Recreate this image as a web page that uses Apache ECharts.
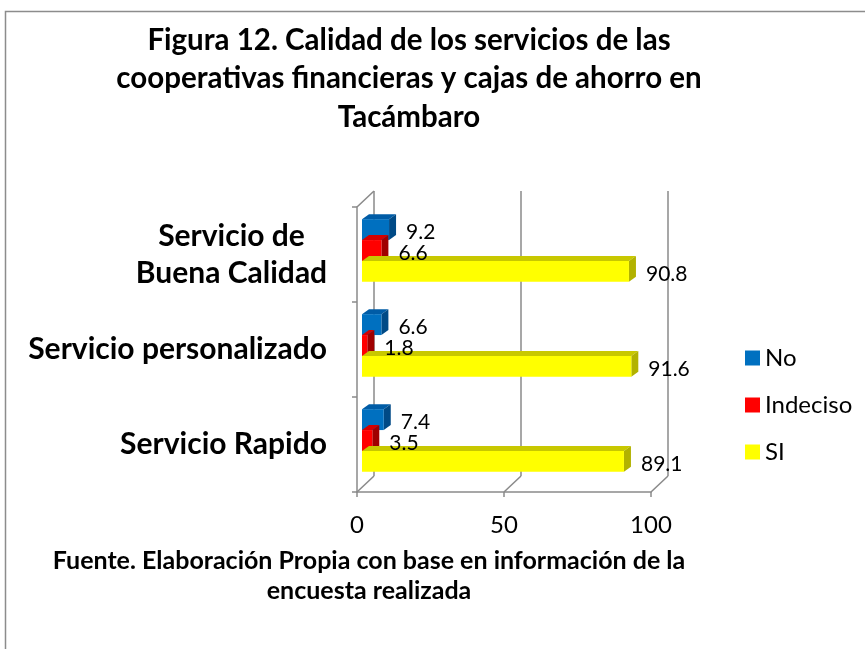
<!DOCTYPE html>
<html>
<head>
<meta charset="utf-8">
<script src="https://cdn.jsdelivr.net/npm/echarts@6/dist/echarts.min.js"></script>
<style>
html, body { margin: 0; padding: 0; background: #fff; }
#main { width: 865px; height: 649px; }
</style>
</head>
<body>
<div id="main"></div>
<script>
// datos
var categories = ['Servicio Rapido', 'Servicio personalizado', 'Servicio de\nBuena Calidad'];
var noData = [7.4, 6.6, 9.2];
var indecisoData = [3.5, 1.8, 6.6];
var siData = [89.1, 91.6, 90.8];
var xTicks = [0, 50, 100];

var FONT = 'Lato, "Noto Sans", sans-serif';
var LINE = '#8a8a8a';

// caras 3D: frente, arriba, lado
var palette = {
  No: ['#0070c0', '#005ca6', '#004a86'],
  Indeciso: ['#ff0000', '#d40000', '#a00000'],
  SI: ['#ffff00', '#c8c800', '#b2b200']
};

// posicion del plano frontal y desplazamiento de la pared del fondo
var gridL = 357, gridT = 207, gridW = 294, gridH = 285;
var backDx = 17, backDy = -16;

var chart = echarts.init(document.getElementById('main'));

function barGeom(slot, api) {
  var v = api.value(0);
  var cat = api.value(1);
  var base = api.coord([0, cat]);
  var end = api.coord([v, cat]);
  var band = api.size([0, 1])[1];
  var h = band * 0.22;
  return {
    v: v,
    h: h,
    x0: base[0] + 5,
    x1: end[0] + 5,
    top: base[1] - 1.5 * h - band * 0.042 + slot * h
  };
}

function makeRender(slot, colors) {
  return function (params, api) {
    var g = barGeom(slot, api);
    var dx = 7, dy = 5;
    var x0 = g.x0, x1 = g.x1, top = g.top, h = g.h;
    return {
      type: 'group',
      children: [
        {
          type: 'polygon',
          shape: { points: [[x0, top], [x0 + dx, top - dy], [x1 + dx, top - dy], [x1, top]] },
          style: { fill: colors[1] }
        },
        {
          type: 'polygon',
          shape: { points: [[x1, top], [x1 + dx, top - dy], [x1 + dx, top + h - dy], [x1, top + h]] },
          style: { fill: colors[2] }
        },
        {
          type: 'rect',
          shape: { x: x0, y: top, width: x1 - x0, height: h },
          style: { fill: colors[0] }
        }
      ]
    };
  };
}

function makeLabel(slot) {
  return function (params, api) {
    var g = barGeom(slot, api);
    return {
      type: 'text',
      x: g.x1 + 17,
      y: g.top + g.h / 2 + 3,
      style: {
        text: String(g.v),
        fill: '#000',
        font: '21px ' + FONT,
        verticalAlign: 'middle',
        align: 'left'
      }
    };
  };
}

function seriesOf(name, values, slot) {
  return {
    name: name,
    type: 'custom',
    itemStyle: { color: palette[name][0] },
    encode: { x: 0, y: 1 },
    data: values.map(function (v, i) { return [v, i]; }),
    renderItem: makeRender(slot, palette[name]),
    z: 10 + slot
  };
}

function labelsOf(values, slot) {
  return {
    type: 'custom',
    encode: { x: 0, y: 1 },
    data: values.map(function (v, i) { return [v, i]; }),
    renderItem: makeLabel(slot),
    silent: true,
    z: 30
  };
}

var option = {
  animation: false,
  textStyle: { fontFamily: FONT },
  legend: {
    orient: 'vertical',
    left: 740,
    top: 341,
    itemWidth: 15,
    itemHeight: 15,
    itemGap: 23,
    icon: 'rect',
    data: ['No', 'Indeciso', 'SI'],
    textStyle: { fontSize: 24, color: '#000', fontFamily: FONT }
  },
  grid: [
    { left: gridL, top: gridT, width: gridW, height: gridH },
    { left: gridL + backDx, top: gridT + backDy, width: gridW, height: gridH }
  ],
  xAxis: [
    {
      type: 'value',
      gridIndex: 0,
      min: 0,
      max: 100,
      interval: 50,
      axisLine: { show: true, lineStyle: { color: LINE, width: 1.5 } },
      axisTick: { show: true, length: 5, lineStyle: { color: LINE, width: 1.5 } },
      splitLine: { show: false },
      axisLabel: {
        margin: 21,
        fontSize: 24,
        color: '#000',
        fontFamily: FONT,
        formatter: function (v) { return xTicks.indexOf(v) >= 0 ? String(v) : ''; }
      }
    },
    {
      type: 'value',
      gridIndex: 1,
      min: 0,
      max: 100,
      interval: 50,
      axisLine: { show: false },
      axisTick: { show: false },
      axisLabel: { show: false },
      splitLine: { show: true, lineStyle: { color: LINE, width: 1.5 } }
    }
  ],
  yAxis: [
    {
      type: 'category',
      gridIndex: 0,
      data: categories,
      axisLine: { show: true, lineStyle: { color: LINE, width: 1.5 } },
      axisTick: { show: true, length: 5, lineStyle: { color: LINE, width: 1.5 } },
      axisLabel: {
        margin: 30,
        fontSize: 30,
        fontWeight: 'bold',
        color: '#000',
        fontFamily: FONT,
        lineHeight: 37,
        formatter: function (v) {
          if (v.indexOf('\n') < 0) return v;
          return v.split('\n').map(function (s) { return '{c|' + s + '}'; }).join('\n');
        },
        rich: {
          c: {
            width: 191,
            align: 'center',
            fontSize: 30,
            fontWeight: 'bold',
            color: '#000',
            fontFamily: FONT,
            lineHeight: 37
          }
        }
      }
    },
    {
      type: 'category',
      gridIndex: 1,
      data: categories,
      show: false
    }
  ],
  series: [
    seriesOf('No', noData, 0),
    seriesOf('Indeciso', indecisoData, 1),
    seriesOf('SI', siData, 2),
    labelsOf(noData, 0),
    labelsOf(indecisoData, 1),
    labelsOf(siData, 2)
  ]
};

chart.setOption(option);

// lineas del piso y de la pared izquierda en perspectiva
var floor = [];
var gridB = gridT + gridH;
xTicks.forEach(function (t) {
  var px = chart.convertToPixel({ xAxisIndex: 0 }, t);
  floor.push({
    type: 'line',
    shape: { x1: px, y1: gridB, x2: px + backDx, y2: gridB + backDy },
    style: { stroke: LINE, lineWidth: 1.5 },
    z: 5
  });
});
var px0 = chart.convertToPixel({ xAxisIndex: 0 }, 0);
floor.push({
  type: 'line',
  shape: { x1: px0, y1: gridT, x2: px0 + backDx, y2: gridT + backDy },
  style: { stroke: LINE, lineWidth: 1.5 },
  z: 5
});

var titleLines = [
  'Figura 12. Calidad de los servicios de las',
  'cooperativas financieras y cajas de ahorro en',
  'Tacámbaro'
];
var footLines = [
  'Fuente. Elaboración Propia con base en información de la',
  'encuesta realizada'
];

var texts = [{
  type: 'rect',
  shape: { x: 5.5, y: 11.5, width: 900, height: 700 },
  style: { fill: 'none', stroke: '#8c8c8c', lineWidth: 1.5 },
  z: 0
}];
titleLines.forEach(function (s, i) {
  texts.push({
    type: 'text',
    x: 409,
    y: 40 + i * 38.5,
    style: { text: s, font: 'bold 29.5px ' + FONT, fill: '#000', align: 'center', verticalAlign: 'middle' }
  });
});
footLines.forEach(function (s, i) {
  texts.push({
    type: 'text',
    x: 369,
    y: 561 + i * 30,
    style: { text: s, font: 'bold 25px ' + FONT, fill: '#000', align: 'center', verticalAlign: 'middle' }
  });
});

chart.setOption({ graphic: texts.concat(floor) });
</script>
</body>
</html>
